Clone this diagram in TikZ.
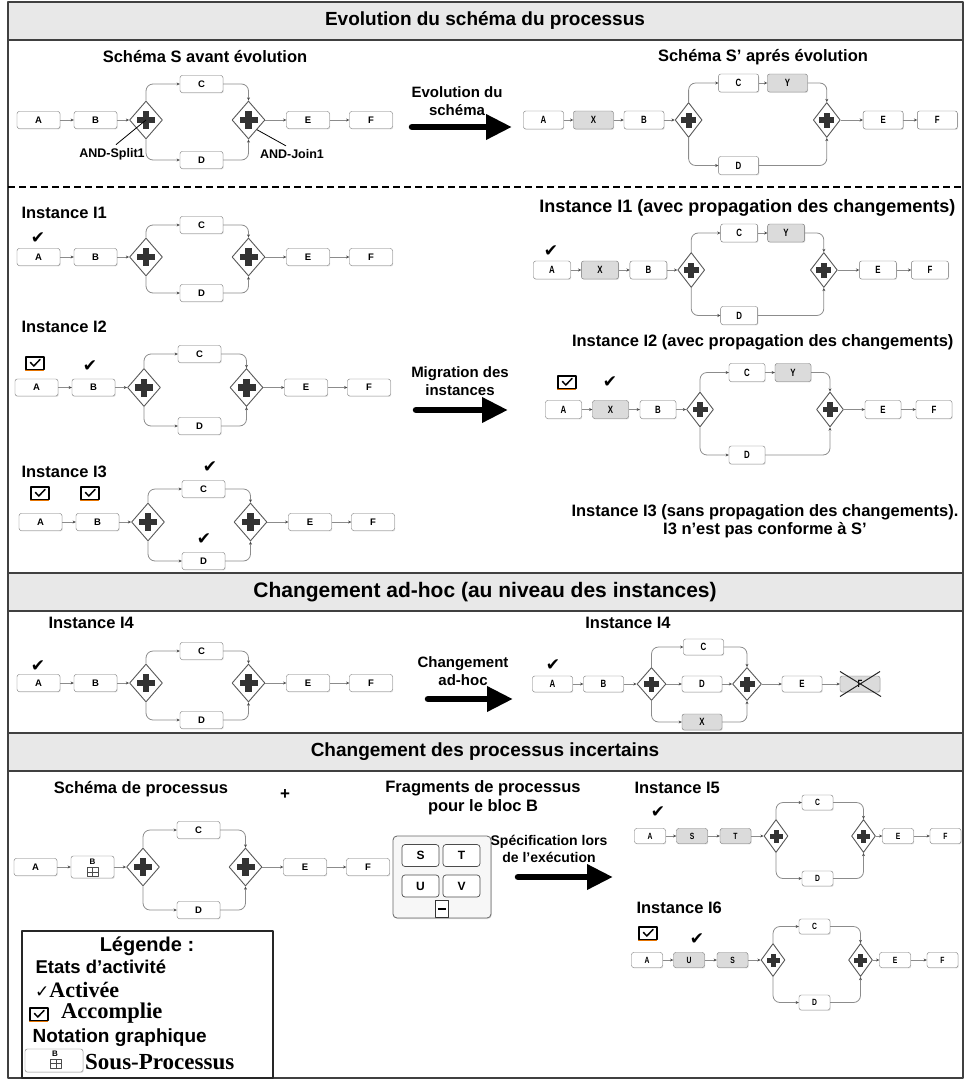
\documentclass[tikz,border=0pt]{standalone}
\usepackage{fontspec}
\setmainfont{Liberation Sans}
\newfontfamily\narrowfont[FakeStretch=0.75]{Liberation Sans}
\newfontfamily\seriffont{Liberation Serif}
\newfontfamily\symfont{DejaVu Sans}
\usetikzlibrary{shapes.geometric,arrows.meta,calc,shadows}
\newcommand\fsz[1]{\fontsize{#1}{#1}\selectfont}
% dark plus sign inside a parallel gateway
\newcommand\plusmark[2]{%
  \fill[black!80] ($(path picture bounding box.center)+(-#1,-#2/2)$) rectangle ($(path picture bounding box.center)+(#1,#2/2)$);
  \fill[black!80] ($(path picture bounding box.center)+(-#2/2,-#1)$) rectangle ($(path picture bounding box.center)+(#2/2,#1)$);}
\tikzset{
  frameline/.style={draw=black!75, line width=1.6pt},
  band/.style={fill=black!9},
  hdr/.style={font=\bfseries\fsz{19}},
  sub/.style={font=\bfseries\fsz{16.5}},
  lbl/.style={font=\bfseries\fontsize{15}{18}\selectfont, align=center},
  task/.style={draw=black!55, fill=white, rounded corners=2.2pt, minimum width=43, minimum height=17,
    inner sep=0pt, font=\bfseries\fsz{9.5},
    drop shadow={shadow xshift=0.7pt, shadow yshift=-0.9pt, opacity=0.25}},
  added/.style={fill=black!14},
  rtask/.style={task, font=\narrowfont\bfseries\fsz{10.5}, minimum width=37, minimum height=18},
  qtask/.style={rtask, minimum width=40, minimum height=16},
  stask/.style={task, font=\narrowfont\bfseries\fsz{9}, minimum width=31, minimum height=15},
  gate/.style={diamond, draw=black!65, line width=0.9pt, fill=white, inner sep=0pt},
  gateL/.style={gate, minimum width=33, minimum height=38, path picture={\plusmark{9}{6.5}}},
  gateS/.style={gate, minimum width=27, minimum height=35, path picture={\plusmark{7.5}{5.8}}},
  gateT/.style={gate, minimum width=24, minimum height=33, path picture={\plusmark{6.5}{5}}},
  flow/.style={draw=black!45, line width=0.8pt, -{Stealth[length=3.2pt,width=3pt,fill=black!70,color=black!70]}},
  branch/.style={rounded corners=7pt},
  bigarrow/.style={line width=6.5pt, line cap=round, -{Triangle[length=26pt,width=24pt]}},
  chk/.style={font=\symfont\fsz{17}, inner sep=0pt},
  pointer/.style={draw=black, line width=0.8pt},
  fragt/.style={draw=black!70, fill=white, rounded corners=3pt, minimum width=37, minimum height=22,
    inner sep=0pt, line width=0.7pt, font=\bfseries\fsz{12}},
  subpmark/.style={draw=black!70, line width=0.6pt, minimum width=11, minimum height=9, inner sep=0pt,
    path picture={\draw[black!70, line width=0.8pt]
      (path picture bounding box.north) -- (path picture bounding box.south)
      (path picture bounding box.west) -- (path picture bounding box.east);}},
  cbox/.pic={
    \draw[orange!90!black, line width=1.3pt] (-9.3,-5.2) rectangle (8.7,7.3);
    \draw[blue!60!black, line width=0.8pt] (9.7,-6) -- (9.7,6);
    \draw[black, line width=1.6pt] (-9,-6.3) rectangle (9,6.3);
    \draw[black, line width=1.5pt, line cap=round] (-4.5,-0.5) -- (-1.2,3) -- (5,-3.5);
  },
}
% process A-B, AND split to C / D, AND join, E-F
\newcommand\leftproc[7]{%
  \begin{scope}[xshift=#2]
    \node[task] (#1A) at (38.5,#3) {A};
    \node[task,#7] (#1B) at (95.5,#3) {#6};
    \node[gateL] (#1s) at (146,#3) {};
    \node[task] (#1C) at (201.5,#4) {C};
    \node[task] (#1D) at (201.5,#5) {D};
    \node[gateL] (#1j) at (248.5,#3) {};
    \node[task] (#1E) at (308,#3) {E};
    \node[task] (#1F) at (371,#3) {F};
  \end{scope}
  \draw[flow] (#1A) -- (#1B);
  \draw[flow] (#1B) -- (#1s);
  \draw[flow,branch] (#1s.north) |- (#1C);
  \draw[flow,branch] (#1s.south) |- (#1D);
  \draw[flow,branch] (#1C) -| (#1j.north);
  \draw[flow,branch] (#1D) -| (#1j.south);
  \draw[flow] (#1j) -- (#1E);
  \draw[flow] (#1E) -- (#1F);
}
% evolved process with the inserted activities X and Y
\newcommand\rightproc[5]{%
  \begin{scope}[shift={(#2,#3)}, xscale=#4]
    \node[rtask, minimum width=#5] (#1A) at (0,0) {A};
    \node[rtask, added, minimum width=#5] (#1X) at (47,0) {X};
    \node[rtask, minimum width=#5] (#1B) at (94.5,0) {B};
    \node[gateS] (#1s) at (136.5,0) {};
    \node[rtask, minimum width=#5] (#1C) at (183.5,-37) {C};
    \node[rtask, added, minimum width=#5] (#1Y) at (229.5,-37) {Y};
    \node[rtask, minimum width=#5] (#1D) at (183.5,45.5) {D};
    \node[gateS] (#1j) at (266.5,0) {};
    \node[rtask, minimum width=#5] (#1E) at (319.5,0) {E};
    \node[rtask, minimum width=#5] (#1F) at (370.5,0) {F};
  \end{scope}
  \draw[flow] (#1A) -- (#1X);
  \draw[flow] (#1X) -- (#1B);
  \draw[flow] (#1B) -- (#1s);
  \draw[flow,branch] (#1s.north) |- (#1C);
  \draw[flow] (#1C) -- (#1Y);
  \draw[flow,branch] (#1Y) -| (#1j.north);
  \draw[flow,branch] (#1s.south) |- (#1D);
  \draw[flow,branch] (#1D) -| (#1j.south);
  \draw[flow] (#1j) -- (#1E);
  \draw[flow] (#1E) -- (#1F);
}
% instance where block B was replaced by two fragments
\newcommand\smallproc[5]{%
  \begin{scope}[xshift=#3]
    \node[stask] (#1A) at (650,#2) {A};
    \node[stask, added] (#1P) at (692,#2) {#4};
    \node[stask, added] (#1Q) at (735.5,#2) {#5};
    \node[gateT] (#1s) at (776,#2) {};
    \node[stask] (#1C) at (817.5,#2-33.5) {C};
    \node[stask] (#1D) at (817.5,#2+42.5) {D};
    \node[gateT] (#1j) at (863.5,#2) {};
    \node[stask] (#1E) at (898,#2) {E};
    \node[stask] (#1F) at (945.5,#2) {F};
  \end{scope}
  \draw[flow] (#1A) -- (#1P);
  \draw[flow] (#1P) -- (#1Q);
  \draw[flow] (#1Q) -- (#1s);
  \draw[flow,branch] (#1s.north) |- (#1C);
  \draw[flow,branch] (#1s.south) |- (#1D);
  \draw[flow,branch] (#1C) -| (#1j.north);
  \draw[flow,branch] (#1D) -| (#1j.south);
  \draw[flow] (#1j) -- (#1E);
  \draw[flow] (#1E) -- (#1F);
}
\begin{document}
\begin{tikzpicture}[x=1pt, y=-1pt, line join=round]
\useasboundingbox (0,0) rectangle (965,1079);

% frame, title bands and separators
\fill[band] (8,2) rectangle (963,40);
\fill[band] (8,573) rectangle (963,611);
\fill[band] (8,733) rectangle (963,771);
\draw[frameline] (8,2) rectangle (963,1078);
\draw[frameline] (8,40) -- (963,40);
\draw[frameline] (8,573) -- (963,573);
\draw[frameline] (8,611) -- (963,611);
\draw[frameline] (8,733) -- (963,733);
\draw[frameline] (8,771) -- (963,771);
\draw[black, line width=1.5pt, dash pattern=on 7pt off 4pt] (8,187) -- (963,187);

\node[hdr] (h1) at (485,21) {Evolution du schéma du processus};
\node[hdr, font=\bfseries\fsz{21}] (h2) at (485,592) {Changement ad-hoc (au niveau des instances)};
\node[hdr] (h3) at (485,752) {Changement des processus incertains};

% ---------- schema evolution ----------
\node[sub] (tS) at (205,57) {Schéma S avant évolution};
\node[sub] (tSp) at (763,57) {Schéma S’ aprés évolution};
\leftproc{s}{0}{120}{84}{160}{B}{}
\node[font=\bfseries\fsz{12.5}] (ls) at (112,154) {AND-Split1};
\node[font=\bfseries\fsz{12.5}] (lj) at (292,154) {AND-Join1};
\draw[pointer] ([xshift=4pt]ls.north) -- (ss.center);
\draw[pointer] (sj.south east) -- ([xshift=-6pt]lj.north);

\node[lbl] (ev) at (457,101) {Evolution du\\schéma};
\coordinate (ev0) at (412,127);
\coordinate (ev1) at (512,127);
\draw[bigarrow] (ev0) -- (ev1);

\rightproc{t}{543.5}{120}{1.063}{40}

% ---------- instances I1, I2, I3 ----------
\node[sub, anchor=west] (ti1) at (18,213) {Instance I1};
\leftproc{a}{0}{257}{225}{293}{B}{}
\node[chk] (ack) at (38,238) {✔};

\node[sub, font=\bfseries\fsz{18}, anchor=east] (ti1r) at (959,208) {Instance I1 (avec propagation des changements)};
\rightproc{u}{552}{270}{1.02}{37}
\node[chk] (uck) at (551,251) {✔};

\node[sub, anchor=west] (ti2) at (18,327) {Instance I2};
\leftproc{b}{-2}{387.5}{354}{426}{B}{}
\pic at (35,363) {cbox};
\node[chk] (bck) at (90,366) {✔};

\node[lbl] (mig) at (460,381) {Migration des\\instances};
\coordinate (mg0) at (416,410);
\coordinate (mg1) at (508,410);
\draw[bigarrow] (mg0) -- (mg1);

\node[sub, anchor=east] (ti2r) at (957,342) {Instance I2 (avec propagation des changements)};
\rightproc{v}{563.5}{409.5}{1}{36}
\pic at (567,382) {cbox};
\node[chk] (vck) at (610,382) {✔};

\node[sub, anchor=west] (ti3) at (18,472) {Instance I3};
\leftproc{c}{2}{522}{489}{561}{B}{}
\pic at (40,493) {cbox};
\pic at (90,493) {cbox};
\node[chk] (cck1) at (210,467) {✔};
\node[chk] (cck2) at (204,539) {✔};

\node[align=center, font=\bfseries\fontsize{16.5}{18.5}\selectfont] (ti3r) at (765,521)
  {Instance I3 (sans propagation des changements).\\I3 n’est pas conforme à S’};

% ---------- ad-hoc change ----------
\node[sub, anchor=west] (ti4) at (45,623) {Instance I4};
\leftproc{d}{0}{683}{651}{720}{B}{}
\node[chk] (dck) at (38,666) {✔};

\node[lbl] (adh) at (463,671) {Changement\\ad-hoc};
\coordinate (ad0) at (428,699);
\coordinate (ad1) at (513,699);
\draw[bigarrow] (ad0) -- (ad1);

\node[sub] (ti4r) at (628,623) {Instance I4};
\node[chk] (qck) at (553,665) {✔};
\node[qtask] (qA) at (552.5,684) {A};
\node[qtask] (qB) at (603.5,684) {B};
\node[gateS, minimum height=33, minimum width=29] (qs) at (651.5,684) {};
\node[qtask] (qC) at (703.5,647) {C};
\node[qtask] (qD) at (702,684) {D};
\node[qtask, added] (qX) at (702,722) {X};
\node[gateS, minimum height=33, minimum width=29] (qj) at (747,684) {};
\node[qtask] (qE) at (802,684) {E};
\node[qtask, added] (qF) at (860,684) {F};
\draw[flow] (qA) -- (qB);
\draw[flow] (qB) -- (qs);
\draw[flow,branch] (qs.north) |- (qC);
\draw[flow] (qs) -- (qD);
\draw[flow,branch] (qs.south) |- (qX);
\draw[flow,branch] (qC) -| (qj.north);
\draw[flow] (qD) -- (qj);
\draw[flow,branch] (qX) -| (qj.south);
\draw[flow] (qj) -- (qE);
\draw[flow] (qE) -- (qF);
\draw[black!85, line width=1pt] ($(qF.center)+(-20,-12.5)$) -- ($(qF.center)+(21,12.5)$);
\draw[black!85, line width=1pt] ($(qF.center)+(-20,12.5)$) -- ($(qF.center)+(20,-12.5)$);

% ---------- uncertain processes ----------
\node[sub] (tsp) at (141,789) {Schéma de processus};
\node[font=\bfseries\fsz{17}] (plus) at (285,795) {+};
\node[align=center, font=\bfseries\fontsize{16.5}{19}\selectfont] (tfr) at (483,797.5)
  {Fragments de processus\\pour le bloc B};
\leftproc{e}{-3}{867}{830}{910}{}{minimum height=22}
\node[font=\bfseries\fsz{8}, inner sep=0pt] (eBl) at ([yshift=5pt]eB.center) {B};
\node[subpmark] (eBp) at ([yshift=-5pt]eB.center) {};

\node[draw=black!60, fill=black!3, rounded corners=4pt, minimum width=98, minimum height=82,
  line width=0.8pt, drop shadow={shadow xshift=0.8pt, shadow yshift=-1pt, opacity=0.25}] (frag) at (442,877) {};
\node[fragt] (fS) at (420.5,855.5) {S};
\node[fragt] (fT) at (461.5,855.5) {T};
\node[fragt] (fU) at (420.5,886) {U};
\node[fragt] (fV) at (461.5,886) {V};
\node[draw=black!80, fill=white, line width=0.8pt, minimum width=13, minimum height=17, inner sep=0pt,
  path picture={\draw[black, line width=1.3pt]
    ($(path picture bounding box.west)+(2.5,0)$) -- ($(path picture bounding box.east)+(-2.5,0)$);}] (fm) at (441.5,909) {};

\node[align=center, font=\bfseries\fontsize{14}{17}\selectfont] (spec) at (549,848.5)
  {Spécification lors\\de l’exécution};
\coordinate (sp0) at (518,877);
\coordinate (sp1) at (613,877);
\draw[bigarrow] (sp0) -- (sp1);

\node[sub, anchor=west] (ti5) at (631,788) {Instance I5};
\smallproc{f}{836}{0}{S}{T}
\node[chk] (fck) at (658,812) {✔};

\node[sub, anchor=west] (ti6) at (633,908) {Instance I6};
\smallproc{g}{960}{-3}{U}{S}
\pic at (648,933) {cbox};
\node[chk] (gck) at (697,939) {✔};

% ---------- legend ----------
\node[draw=black!85, line width=1.3pt, minimum width=251, minimum height=147, inner sep=0pt] (leg) at (147.5,1004.5) {};
\node[font=\bfseries\fsz{20}] (lg1) at (147,946) {Légende :};
\node[font=\bfseries\fsz{18.5}, anchor=west] (lg2) at (32,967) {Etats d’activité};
\node[anchor=west, inner sep=0pt] (lg3) at (35,990) {{\symfont\fsz{17}✓}{\seriffont\bfseries\fsz{22}Activée}};
\pic at (39,1014) {cbox};
\node[anchor=west, inner sep=0pt, font=\seriffont\bfseries\fsz{22.5}] (lg4) at (61,1013) {Accomplie};
\node[font=\bfseries\fsz{19}, anchor=west] (lg5) at (29,1038) {Notation graphique};
\node[task, minimum width=58, minimum height=23] (lgB) at (54,1060.5) {};
\node[font=\bfseries\fsz{8}, inner sep=0pt] (lgBl) at (55,1054) {B};
\node[subpmark] (lgBp) at (56,1063.5) {};
\node[anchor=west, inner sep=0pt, font=\seriffont\bfseries\fsz{23}] (lg6) at (85,1062) {Sous-Processus};
\end{tikzpicture}
\end{document}
